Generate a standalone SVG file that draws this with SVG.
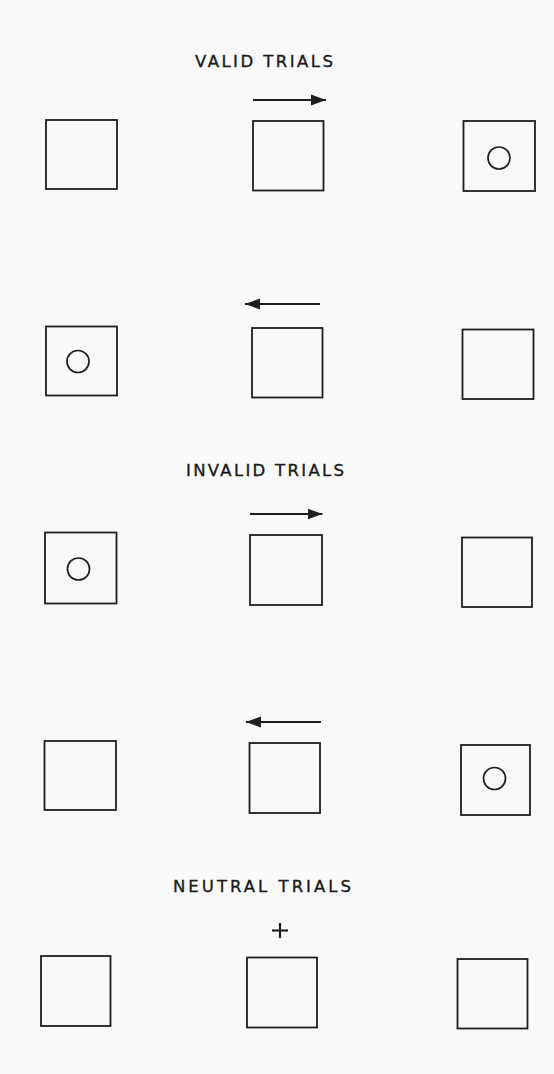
<svg xmlns="http://www.w3.org/2000/svg" width="554" height="1074" viewBox="0 0 554 1074">
<style>
.bg{fill:#f9f9f9}
.box{fill:none;stroke:#1e1e1e;stroke-width:1.8}
.dot{fill:none;stroke:#1e1e1e;stroke-width:1.7}
.ttl{font-family:"DejaVu Sans","Liberation Sans",sans-serif;font-size:16.5px;fill:#1a1a1a;stroke:#1a1a1a;stroke-width:0.35}
.arr{stroke:#1e1e1e;stroke-width:1.8;fill:none}
.plus{stroke:#1e1e1e;stroke-width:2.2}
</style>
<defs>
<marker id="ah" markerUnits="userSpaceOnUse" markerWidth="18" markerHeight="14" refX="15" refY="6" orient="auto">
<polygon points="0,0.5 15,6 0,11.5" fill="#1e1e1e"/>
</marker>
</defs>
<rect class="bg" x="0" y="0" width="554" height="1074"/>

<text class="ttl" x="195" y="67" textLength="138" lengthAdjust="spacing">VALID TRIALS</text>
<text class="ttl" x="186" y="476" textLength="158" lengthAdjust="spacing">INVALID TRIALS</text>
<text class="ttl" x="173" y="892" textLength="178" lengthAdjust="spacing">NEUTRAL TRIALS</text>

<g id="v1a"><rect class="box" x="46" y="120" width="71" height="69"/></g>
<g id="v1b"><rect class="box" x="253" y="121" width="70.5" height="69.5"/></g>
<g id="v1c"><rect class="box" x="463.5" y="121" width="71.5" height="70"/><circle class="dot" cx="499" cy="158" r="11"/></g>

<g id="v2a"><rect class="box" x="46" y="326.5" width="71" height="69"/><circle class="dot" cx="78" cy="361.5" r="11"/></g>
<g id="v2b"><rect class="box" x="252" y="328" width="70.5" height="69.5"/></g>
<g id="v2c"><rect class="box" x="462.5" y="329.5" width="71" height="69.5"/></g>

<g id="i1a"><rect class="box" x="45" y="532.5" width="71.5" height="71"/><circle class="dot" cx="78.5" cy="569" r="11"/></g>
<g id="i1b"><rect class="box" x="250" y="535" width="72" height="70"/></g>
<g id="i1c"><rect class="box" x="462" y="537.5" width="70" height="69.5"/></g>

<g id="i2a"><rect class="box" x="44.5" y="741" width="71.5" height="69"/></g>
<g id="i2b"><rect class="box" x="249.5" y="743" width="70.5" height="70"/></g>
<g id="i2c"><rect class="box" x="461" y="745" width="69" height="70"/><circle class="dot" cx="494.5" cy="778.5" r="11"/></g>

<g id="n1a"><rect class="box" x="41" y="956" width="69.5" height="70"/></g>
<g id="n1b"><rect class="box" x="247" y="957.5" width="70" height="70"/></g>
<g id="n1c"><rect class="box" x="457.5" y="959" width="70" height="69.5"/></g>

<g id="connectors">
<line class="arr" x1="253" y1="100" x2="326" y2="100" marker-end="url(#ah)"/>
<line class="arr" x1="320" y1="304" x2="245" y2="304" marker-end="url(#ah)"/>
<line class="arr" x1="250" y1="514" x2="322.5" y2="514" marker-end="url(#ah)"/>
<line class="arr" x1="321" y1="722" x2="246" y2="722" marker-end="url(#ah)"/>
<line class="plus" x1="272" y1="930.5" x2="288" y2="930.5"/>
<line class="plus" x1="280" y1="923" x2="280" y2="938"/>
</g>
</svg>
